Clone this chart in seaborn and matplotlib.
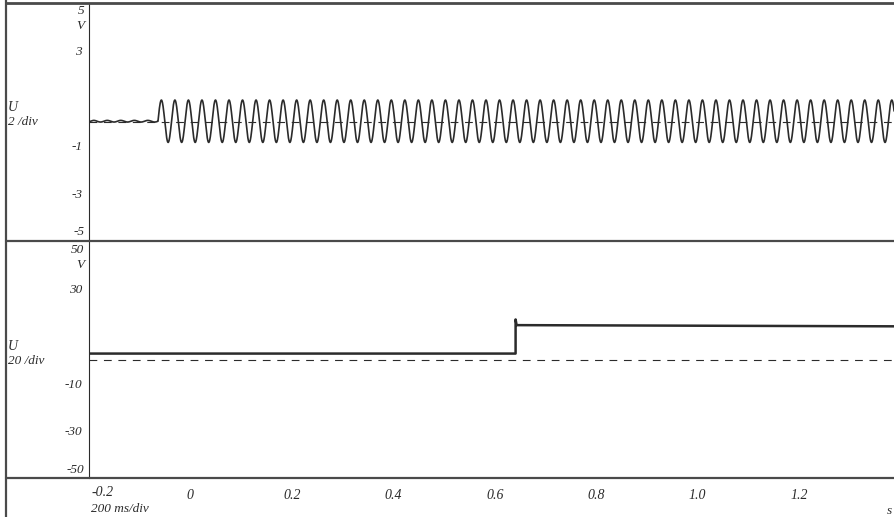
import numpy as np
import pandas as pd
import matplotlib
matplotlib.use("Agg")
import matplotlib.pyplot as plt
from matplotlib.lines import Line2D
from matplotlib import font_manager as fm
from matplotlib.font_manager import FontProperties
import seaborn as sns

# ---- record settings -------------------------------------------------------
time_window = [-0.2, 1.387]                       # seconds shown
time_ticks = [0, 0.2, 0.4, 0.6, 0.8, 1.0, 1.2]
time_tick_labels = ["0", "0.2", "0.4", "0.6", "0.8", "1.0", "1.2"]

# channel 1 (2 V/div): residual ripple, then a steady oscillation
ch1_range = [-5, 5]
ch1_ticks = [3, 1, -1, -3]
ch1_tick_labels = ["3", "", "-1", "-3"]
ch1_onset_s = -0.064
ch1_freq_hz = 37.5
ch1_amplitude_v = 0.89
ch1_offset_v = 0.02
ch1_ripple_v = 0.035
ch1_sample_s = 0.0004

# channel 2 (20 V/div): DC level stepping up
ch2_range = [-50, 50]
ch2_ticks = [30, 10, -10, -30]
ch2_tick_labels = ["30", "", "-10", "-30"]
ch2_times = [-0.2, 0.641, 0.641, 0.643, 1.387]
ch2_volts = [2.5, 2.5, 16.9, 14.5, 14.0]

# ---- traces ------------------------------------------------------------------
t1 = np.arange(time_window[0], time_window[1] + ch1_sample_s, ch1_sample_s)
phase = 2 * np.pi * ch1_freq_hz * (t1 - ch1_onset_s)
u1 = ch1_offset_v + np.where(t1 >= ch1_onset_s,
                             ch1_amplitude_v * np.sin(phase),
                             ch1_ripple_v * np.sin(phase))
ch1 = pd.DataFrame({"t": t1, "u": u1})
ch2 = pd.DataFrame({"t": ch2_times, "u": ch2_volts})

# ---- style -------------------------------------------------------------------
sns.set_style("white")
ink = "#2b2b2b"
frame = "#4a4a4a"

# italic serif face for all labels (first one installed)
italic_file = None
for fam in ("Liberation Serif", "DejaVu Serif", "Noto Serif"):
    for entry in fm.fontManager.ttflist:
        if entry.name == fam and entry.style in ("italic", "oblique") and entry.weight in (400, "normal", "regular"):
            italic_file = entry.fname
            break
    if italic_file:
        break
if italic_file is None:
    for entry in fm.fontManager.ttflist:
        if entry.name == "Liberation Serif" and "Italic" in entry.fname and "Bold" not in entry.fname:
            italic_file = entry.fname
            break


def ital(size):
    if italic_file:
        return FontProperties(fname=italic_file, size=size)
    return FontProperties(family="serif", style="italic", size=size)


W, H = 894, 517
fig = plt.figure(figsize=(W / 100, H / 100), dpi=100)
fig.patch.set_facecolor("white")


def px_axes(left, top, right, bottom):
    return fig.add_axes([left / W, 1 - bottom / H, (right - left) / W, (bottom - top) / H])


def px_text(x, y, s, size=9.5, ha="left", va="center"):
    fig.text(x / W, 1 - y / H, s, fontproperties=ital(size), ha=ha, va=va, color=ink)


def px_hline(y, x0, x1, lw=1.6):
    fig.add_artist(Line2D([x0 / W, x1 / W], [1 - y / H, 1 - y / H],
                          transform=fig.transFigure, color=frame, lw=lw))


def px_vline(x, y0, y1, lw=1.6):
    fig.add_artist(Line2D([x / W, x / W], [1 - y0 / H, 1 - y1 / H],
                          transform=fig.transFigure, color=frame, lw=lw))


ax1 = px_axes(89, 2.7, 894, 240.7)
ax2 = px_axes(89, 241.0, 894, 478.0)

sns.lineplot(data=ch1, x="t", y="u", ax=ax1, color=ink, lw=1.2,
             estimator=None, sort=False, zorder=3)
sns.lineplot(data=ch2, x="t", y="u", ax=ax2, color=ink, lw=1.8,
             estimator=None, sort=False, zorder=3)

for ax, yr, ticks, labels in ((ax1, ch1_range, ch1_ticks, ch1_tick_labels),
                              (ax2, ch2_range, ch2_ticks, ch2_tick_labels)):
    ax.set_facecolor("white")
    ax.set_xlim(*time_window)
    ax.set_ylim(*yr)
    for side in ("top", "right", "bottom"):
        ax.spines[side].set_visible(False)
    ax.spines["left"].set_color(ink)
    ax.spines["left"].set_linewidth(0.8)
    ax.set_yticks(ticks)
    ax.set_yticklabels(labels, fontproperties=ital(9.5))
    ax.tick_params(axis="y", direction="out", length=4, width=0.8, pad=1,
                   colors=ink)
    ax.axhline(0, color=ink, lw=0.8, ls=(0, (7, 6)), zorder=1)
    ax.set_xlabel("")
    ax.set_ylabel("")

ax1.set_xticks([])
ax2.set_xticks(time_ticks)
ax2.set_xticklabels(time_tick_labels, fontproperties=ital(10))
ax2.tick_params(axis="x", direction="out", length=6, width=0.8, pad=2,
                colors=ink)

# ---- frame lines -------------------------------------------------------------
px_vline(6, 0, 517)
px_hline(2.7, 6, 894, lw=2.0)
px_hline(240.8, 6, 894)
px_hline(478.0, 6, 894)

# ---- channel annotations -----------------------------------------------------
px_text(84, 11, "5", ha="right")
px_text(84, 26, "V", ha="right")
px_text(84, 232, "-5", ha="right")
px_text(8, 107, "U", size=10)
px_text(8, 122, "2 /div")

px_text(84, 250, "50", ha="right")
px_text(84, 265, "V", ha="right")
px_text(84, 470, "-50", ha="right")
px_text(8, 346, "U", size=10)
px_text(8, 361, "20 /div")

px_text(91, 493, "-0.2", size=10)
px_text(91, 509, "200 ms/div")
px_text(887, 511, "s")

fig.savefig("out.png", dpi=100, facecolor="white")
